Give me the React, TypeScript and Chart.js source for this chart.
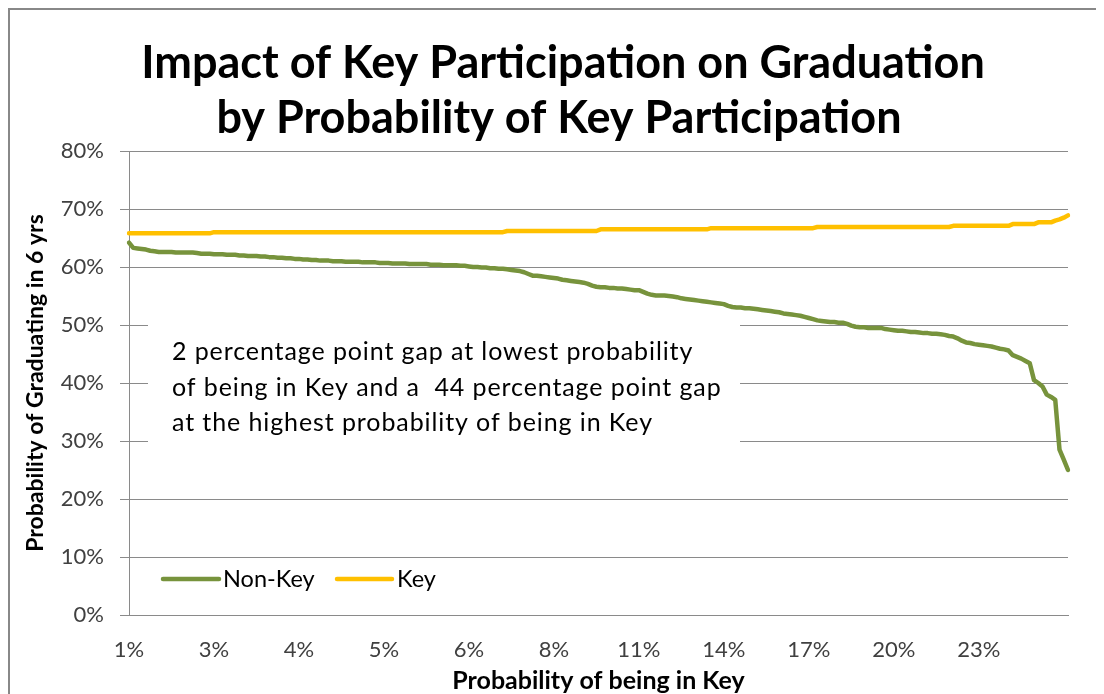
import React, { useEffect, useRef } from "react";
import { Chart, registerables } from "chart.js";

Chart.register(...registerables);

const TITLE_LINES = ["Impact of Key Participation on Graduation", "by Probability of Key Participation"];
const X_TITLE = "Probability of being in Key";
const Y_TITLE = "Probability of Graduating in 6 yrs";
const NOTE_LINES = [
  "2 percentage point gap at lowest probability",
  "of being in Key and a  44 percentage point gap",
  "at the highest probability of being in Key",
];

// shown category labels (every 20th point)
const TICK_LABELS = ["1%", "3%", "4%", "5%", "6%", "8%", "11%", "14%", "17%", "20%", "23%"];
const TICK_EVERY = 20;

// Probability of graduating (%) — Non-Key students, 222 points
const NON_KEY = [
  64.2, 63.3, 63.2, 63.1, 63.0, 62.8, 62.7, 62.6, 62.6, 62.6, 62.6, 62.5, 62.5, 62.5, 62.5, 62.5, 62.4, 62.3, 62.3, 62.3,
  62.2, 62.2, 62.2, 62.1, 62.1, 62.1, 62.0, 62.0, 61.9, 61.9, 61.9, 61.8, 61.8, 61.7, 61.7, 61.6, 61.6, 61.5, 61.5, 61.4,
  61.4, 61.3, 61.3, 61.2, 61.2, 61.1, 61.1, 61.1, 61.0, 61.0, 61.0, 60.9, 60.9, 60.9, 60.9, 60.8, 60.8, 60.8, 60.8, 60.7,
  60.7, 60.7, 60.6, 60.6, 60.6, 60.6, 60.5, 60.5, 60.5, 60.5, 60.5, 60.4, 60.4, 60.4, 60.3, 60.3, 60.3, 60.3, 60.2, 60.2,
  60.1, 60.0, 60.0, 59.9, 59.9, 59.8, 59.8, 59.7, 59.7, 59.6, 59.5, 59.4, 59.3, 59.1, 58.8, 58.5, 58.5, 58.4, 58.3, 58.2,
  58.1, 58.0, 57.8, 57.7, 57.6, 57.5, 57.4, 57.3, 57.1, 56.8, 56.6, 56.5, 56.5, 56.4, 56.4, 56.3, 56.3, 56.2, 56.1, 56.0,
  56.0, 55.7, 55.4, 55.2, 55.1, 55.1, 55.1, 55.0, 54.9, 54.8, 54.6, 54.5, 54.4, 54.3, 54.2, 54.1, 54.0, 53.9, 53.8, 53.7,
  53.6, 53.3, 53.1, 53.0, 53.0, 52.9, 52.9, 52.8, 52.7, 52.6, 52.5, 52.4, 52.3, 52.2, 52.0, 51.9, 51.8, 51.7, 51.6, 51.4,
  51.2, 51.0, 50.8, 50.7, 50.6, 50.5, 50.5, 50.4, 50.4, 50.2, 49.9, 49.7, 49.6, 49.6, 49.5, 49.5, 49.5, 49.5, 49.3, 49.2,
  49.1, 49.0, 49.0, 48.9, 48.8, 48.8, 48.7, 48.6, 48.6, 48.5, 48.5, 48.4, 48.3, 48.1, 48.0, 47.7, 47.3, 47.0, 46.9, 46.7,
  46.6, 46.5, 46.4, 46.3, 46.1, 45.9, 45.8, 45.6, 44.8, 44.5, 44.2, 43.8, 43.4, 40.5, 40.0, 39.4, 38.0, 37.6, 37.1, 28.5,
  26.8, 25.0,
];

// Probability of graduating (%) — Key students, 222 points
const KEY = [
  65.8, 65.8, 65.8, 65.8, 65.8, 65.8, 65.8, 65.8, 65.8, 65.8, 65.8, 65.8, 65.8, 65.8, 65.8, 65.8, 65.8, 65.8, 65.8, 65.8,
  66.0, 66.0, 66.0, 66.0, 66.0, 66.0, 66.0, 66.0, 66.0, 66.0, 66.0, 66.0, 66.0, 66.0, 66.0, 66.0, 66.0, 66.0, 66.0, 66.0,
  66.0, 66.0, 66.0, 66.0, 66.0, 66.0, 66.0, 66.0, 66.0, 66.0, 66.0, 66.0, 66.0, 66.0, 66.0, 66.0, 66.0, 66.0, 66.0, 66.0,
  66.0, 66.0, 66.0, 66.0, 66.0, 66.0, 66.0, 66.0, 66.0, 66.0, 66.0, 66.0, 66.0, 66.0, 66.0, 66.0, 66.0, 66.0, 66.0, 66.0,
  66.0, 66.0, 66.0, 66.0, 66.0, 66.0, 66.0, 66.0, 66.0, 66.2, 66.2, 66.2, 66.2, 66.2, 66.2, 66.2, 66.2, 66.2, 66.2, 66.2,
  66.2, 66.2, 66.2, 66.2, 66.2, 66.2, 66.2, 66.2, 66.2, 66.2, 66.2, 66.5, 66.5, 66.5, 66.5, 66.5, 66.5, 66.5, 66.5, 66.5,
  66.5, 66.5, 66.5, 66.5, 66.5, 66.5, 66.5, 66.5, 66.5, 66.5, 66.5, 66.5, 66.5, 66.5, 66.5, 66.5, 66.5, 66.7, 66.7, 66.7,
  66.7, 66.7, 66.7, 66.7, 66.7, 66.7, 66.7, 66.7, 66.7, 66.7, 66.7, 66.7, 66.7, 66.7, 66.7, 66.7, 66.7, 66.7, 66.7, 66.7,
  66.7, 66.7, 66.9, 66.9, 66.9, 66.9, 66.9, 66.9, 66.9, 66.9, 66.9, 66.9, 66.9, 66.9, 66.9, 66.9, 66.9, 66.9, 66.9, 66.9,
  66.9, 66.9, 66.9, 66.9, 66.9, 66.9, 66.9, 66.9, 66.9, 66.9, 66.9, 66.9, 66.9, 66.9, 67.1, 67.1, 67.1, 67.1, 67.1, 67.1,
  67.1, 67.1, 67.1, 67.1, 67.1, 67.1, 67.1, 67.1, 67.4, 67.4, 67.4, 67.4, 67.4, 67.4, 67.7, 67.7, 67.7, 67.7, 68.0, 68.2,
  68.5, 68.9,
];

const SERIES_NAMES = ["Non-Key", "Key"];
const SERIES_COLORS = ["#77933C", "#FFC000"];

const FONT = "Lato, 'Open Sans', sans-serif";

const overlayPlugin = {
  id: "overlay",
  afterDraw(chart: any) {
    const { ctx, chartArea: ca } = chart;
    ctx.save();
    // title
    ctx.fillStyle = "#000000";
    ctx.font = `bold 45px ${FONT}`;
    ctx.textAlign = "center";
    ctx.textBaseline = "alphabetic";
    ctx.fillText(TITLE_LINES[0], 553, 68);
    ctx.fillText(TITLE_LINES[1], 549, 123);
    // annotation text box
    ctx.fillStyle = "#ffffff";
    ctx.fillRect(ca.left + 19, ca.top + 171, 592, 135);
    ctx.fillStyle = "#000000";
    ctx.font = `25px ${FONT}`;
    try {
      (ctx as any).letterSpacing = "0.9px";
    } catch (e) {}
    ctx.textBaseline = "middle";
    ctx.textAlign = "left";
    NOTE_LINES.forEach((t, i) => ctx.fillText(t, ca.left + 43, ca.top + 201 + i * 35.5));
    try {
      (ctx as any).letterSpacing = "0px";
    } catch (e) {}
    // legend
    const ly = ca.top + 428;
    const items = [
      { x0: ca.left + 34, x1: ca.left + 90, tx: ca.left + 94 },
      { x0: ca.left + 208, x1: ca.left + 263, tx: ca.left + 268 },
    ];
    chart.data.datasets.forEach((ds: any, i: number) => {
      const it = items[i];
      ctx.strokeStyle = ds.borderColor;
      ctx.lineWidth = 4.5;
      ctx.lineCap = "round";
      ctx.beginPath();
      ctx.moveTo(it.x0, ly);
      ctx.lineTo(it.x1, ly);
      ctx.stroke();
      ctx.fillStyle = "#000000";
      ctx.font = `23.5px ${FONT}`;
      ctx.fillText(ds.label, it.tx, ly);
    });
    ctx.restore();
  },
};

export default function App() {
  const ref = useRef<HTMLCanvasElement | null>(null);

  useEffect(() => {
    document.documentElement.style.overflow = "hidden";
    document.body.style.overflow = "hidden";
    if (!ref.current) return;
    const labels = NON_KEY.map((_, i) => (i % TICK_EVERY === 0 ? TICK_LABELS[i / TICK_EVERY] ?? "" : ""));
    const chart = new Chart(ref.current, {
      type: "line",
      data: {
        labels,
        datasets: [NON_KEY, KEY].map((d, i) => ({
          label: SERIES_NAMES[i],
          data: d,
          borderColor: SERIES_COLORS[i],
          backgroundColor: SERIES_COLORS[i],
          borderWidth: 4.5,
          pointRadius: 0,
          pointHoverRadius: 0,
          tension: 0,
          borderJoinStyle: "round" as const,
          borderCapStyle: "round" as const,
        })),
      },
      options: {
        responsive: false,
        animation: false,
        devicePixelRatio: 1,
        layout: { padding: { left: 0, right: 36, top: 141, bottom: 0 } },
        plugins: {
          legend: { display: false },
          tooltip: { enabled: false },
          title: { display: false },
        },
        scales: {
          x: {
            grid: { display: false, drawTicks: false },
            border: { display: true, color: "#8a8a8a", width: 1 },
            ticks: {
              autoSkip: false,
              maxRotation: 0,
              minRotation: 0,
              padding: 22,
              color: "#404040",
              font: { family: FONT, size: 22 },
            },
            title: {
              display: true,
              text: X_TITLE,
              color: "#000000",
              font: { family: FONT, size: 25, weight: "bold" },
              padding: { top: 0, bottom: 0 },
            },
            afterFit(scale: any) {
              scale.height = 81;
            },
          },
          y: {
            min: 0,
            max: 80,
            ticks: {
              stepSize: 10,
              padding: 16,
              color: "#404040",
              font: { family: FONT, size: 22 },
              callback: (v: any) => `${v}%`,
            },
            grid: { color: "#8a8a8a", lineWidth: 1, tickLength: 9, drawTicks: true },
            border: { display: true, color: "#8a8a8a", width: 1 },
            title: {
              display: true,
              text: Y_TITLE,
              color: "#000000",
              font: { family: FONT, size: 23, weight: "bold" },
              padding: { top: 12, bottom: 0 },
            },
            afterFit(scale: any) {
              scale.width = 119;
            },
          },
        },
      },
      plugins: [overlayPlugin],
    });
    return () => chart.destroy();
  }, []);

  return (
    <div
      style={{
        borderLeft: "2px solid #888888",
        borderTop: "2px solid #888888",
        width: 1200,
        height: 700,
        overflow: "hidden",
        background: "#ffffff",
      }}
    >
      <canvas ref={ref} width={1094} height={686} style={{ display: "block" }} />
    </div>
  );
}
